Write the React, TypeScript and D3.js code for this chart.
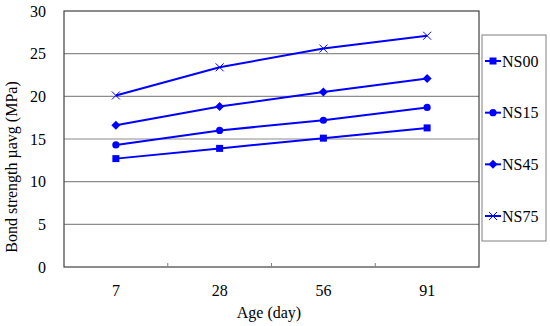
import React, { useEffect, useRef } from 'react';
import * as d3 from 'd3';

const ages = ['7', '28', '56', '91'];
const yTicks = [0, 5, 10, 15, 20, 25, 30];
const seriesNames = ['NS00', 'NS15', 'NS45', 'NS75'];
const ns00 = [12.7, 13.9, 15.1, 16.3];
const ns15 = [14.3, 16.0, 17.2, 18.7];
const ns45 = [16.6, 18.8, 20.5, 22.1];
const ns75 = [20.1, 23.4, 25.6, 27.1];

const seriesValues = [ns00, ns15, ns45, ns75];
const markers = ['square', 'circle', 'diamond', 'cross'];

const W = 550;
const H = 326;
const BLUE = '#0000ff';
const FONT = '"Liberation Serif", "Times New Roman", serif';

function drawMarker(g: d3.Selection<SVGGElement, unknown, null, undefined>, kind: string, x: number, y: number) {
  if (kind === 'square') {
    g.append('rect').attr('x', x - 3.5).attr('y', y - 3.5).attr('width', 7).attr('height', 7).attr('fill', BLUE);
  } else if (kind === 'circle') {
    g.append('circle').attr('cx', x).attr('cy', y).attr('r', 3.6).attr('fill', BLUE);
  } else if (kind === 'diamond') {
    g.append('path')
      .attr('d', `M${x},${y - 4.5}L${x + 4.5},${y}L${x},${y + 4.5}L${x - 4.5},${y}Z`)
      .attr('fill', BLUE);
  } else {
    g.append('path')
      .attr('d', `M${x - 4},${y - 4}L${x + 4},${y + 4}M${x - 4},${y + 4}L${x + 4},${y - 4}`)
      .attr('stroke', BLUE)
      .attr('stroke-width', 1)
      .attr('fill', 'none');
  }
}

const App: React.FC = () => {
  const ref = useRef<SVGSVGElement | null>(null);

  useEffect(() => {
    if (!ref.current) return;
    const svg = d3.select(ref.current);
    svg.selectAll('*').remove();

    const plot = { left: 64, right: 479, top: 11, bottom: 267 };

    const x = d3.scaleBand<string>().domain(ages).range([plot.left, plot.right]);
    const y = d3.scaleLinear().domain([0, 30]).range([plot.bottom, plot.top]);

    svg.append('rect').attr('width', W).attr('height', H).attr('fill', '#fff');

    // gridlines
    svg.append('g')
      .selectAll('line')
      .data(yTicks.filter(t => t > 0 && t < 30))
      .enter()
      .append('line')
      .attr('x1', plot.left)
      .attr('x2', plot.right)
      .attr('y1', d => y(d))
      .attr('y2', d => y(d))
      .attr('stroke', '#8c8c8c')
      .attr('stroke-width', 1.2);

    // plot frame
    svg.append('rect')
      .attr('x', plot.left)
      .attr('y', plot.top)
      .attr('width', plot.right - plot.left)
      .attr('height', plot.bottom - plot.top)
      .attr('fill', 'none')
      .attr('stroke', '#404040')
      .attr('stroke-width', 1.2);

    // x ticks between categories
    svg.append('g')
      .selectAll('line')
      .data(ages.slice(1))
      .enter()
      .append('line')
      .attr('x1', d => x(d)!)
      .attr('x2', d => x(d)!)
      .attr('y1', plot.bottom)
      .attr('y2', plot.bottom - 4)
      .attr('stroke', '#808080')
      .attr('stroke-width', 1);

    // y tick labels
    svg.append('g')
      .selectAll('text')
      .data(yTicks)
      .enter()
      .append('text')
      .attr('x', 46)
      .attr('y', d => y(d))
      .attr('dy', '0.35em')
      .attr('text-anchor', 'end')
      .attr('font-family', FONT)
      .attr('font-size', 16)
      .text(d => d);

    // x tick labels
    svg.append('g')
      .selectAll('text')
      .data(ages)
      .enter()
      .append('text')
      .attr('x', d => x(d)! + x.bandwidth() / 2)
      .attr('y', 296)
      .attr('text-anchor', 'middle')
      .attr('font-family', FONT)
      .attr('font-size', 16)
      .text(d => d);

    // axis titles
    svg.append('text')
      .attr('x', 269)
      .attr('y', 318)
      .attr('text-anchor', 'middle')
      .attr('font-family', FONT)
      .attr('font-size', 16)
      .text('Age (day)');

    svg.append('text')
      .attr('transform', 'translate(17,167) rotate(-90)')
      .attr('text-anchor', 'middle')
      .attr('font-family', FONT)
      .attr('font-size', 16)
      .text('Bond strength µavg (MPa)');

    // series
    const line = d3
      .line<number>()
      .x((_, i) => x(ages[i])! + x.bandwidth() / 2)
      .y(d => y(d));

    seriesValues.forEach((vals, si) => {
      const g = svg.append('g');
      g.append('path')
        .datum(vals)
        .attr('fill', 'none')
        .attr('stroke', BLUE)
        .attr('stroke-width', 2)
        .attr('d', line);
      vals.forEach((v, i) => drawMarker(g, markers[si], x(ages[i])! + x.bandwidth() / 2, y(v)));
    });

    // legend
    const leg = svg.append('g');
    leg.append('rect')
      .attr('x', 482)
      .attr('y', 35)
      .attr('width', 64)
      .attr('height', 206)
      .attr('fill', '#fff')
      .attr('stroke', '#808080')
      .attr('stroke-width', 1);

    const ly = d3.scalePoint<string>().domain(seriesNames).range([61, 216]);
    seriesNames.forEach((name, i) => {
      const cy = ly(name)!;
      leg.append('line')
        .attr('x1', 485)
        .attr('x2', 501)
        .attr('y1', cy)
        .attr('y2', cy)
        .attr('stroke', BLUE)
        .attr('stroke-width', 2);
      drawMarker(leg, markers[i], 493, cy);
      leg.append('text')
        .attr('x', 502)
        .attr('y', cy)
        .attr('dy', '0.35em')
        .attr('font-family', FONT)
        .attr('font-size', 16)
        .text(name);
    });
  }, []);

  return <svg ref={ref} width={W} height={H} style={{ display: 'block', position: 'absolute', left: 0, top: 0 }} />;
};

export default App;
